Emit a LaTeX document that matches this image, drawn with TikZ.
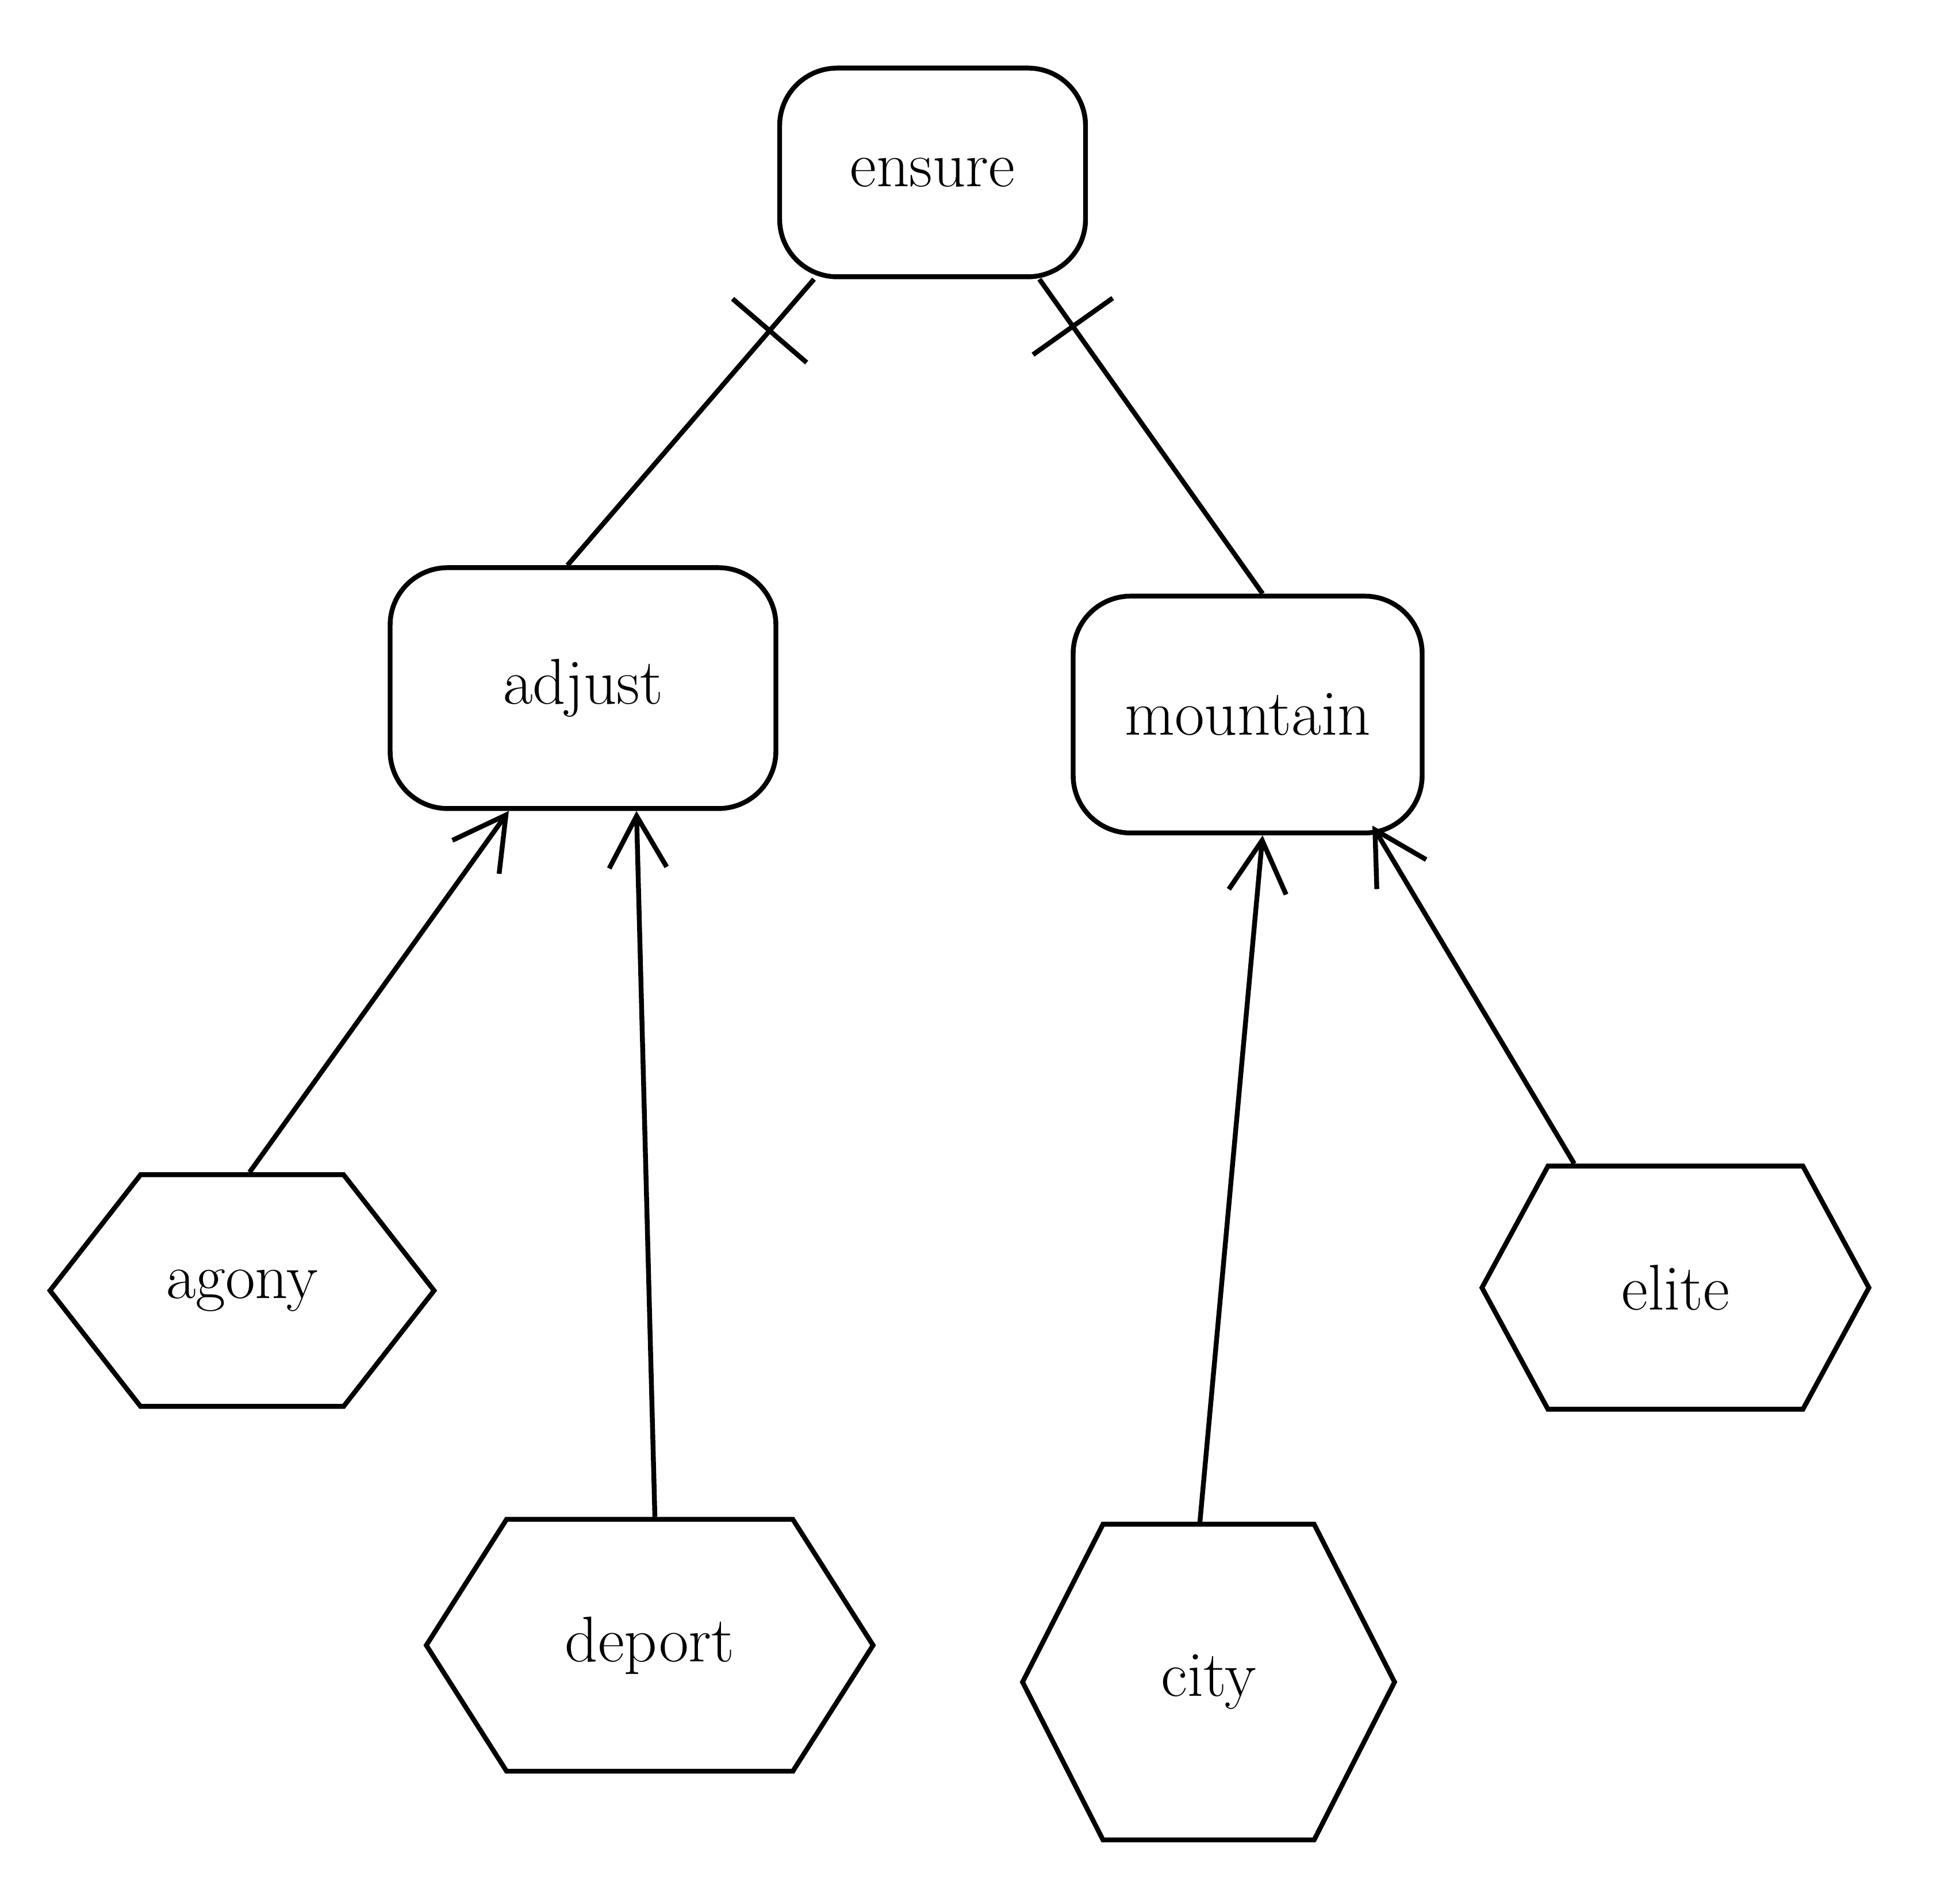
\documentclass[tikz,border=0pt]{standalone}
\usetikzlibrary{positioning,shapes.symbols,arrows.meta}
\tikzset{word box/.style={rectangle,rounded corners=1cm,draw,line width=2.4pt,inner sep=0pt,font=\fontsize{32}{38}\selectfont},
word hex/.style={signal,signal to=east and west,draw,line width=2.4pt,inner sep=0pt,font=\fontsize{32}{38}\selectfont},
bar mark/.style={sloped,draw,line width=2.4pt,minimum width=0pt,minimum height=1.7cm,inner sep=0pt},
up link/.style={-{Straight Barb[length=0.9cm,width=1cm]}},
}

\begin{document}
\begin{tikzpicture}[on grid]
		\useasboundingbox (0,0) rectangle (34.02,33.12);
		\node[word box,minimum width=5.32cm,minimum height=3.63cm] (ensure) at (16.22,30.12) {ensure};
		\node[word box,minimum width=6.71cm,minimum height=4.19cm] (adjust) [below left=8.97cm and 6.08cm of ensure] {adjust};
		\node[word box,minimum width=6.07cm,minimum height=4.12cm] (mountain) [below right=9.43cm and 5.48cm of ensure] {mountain};
		\node[word hex,minimum width=6.68cm,minimum height=4.03cm,signal pointer angle=104] (agony) [below left=10.48cm and 5.93cm of adjust] {agony};
		\node[word hex,minimum width=7.77cm,minimum height=4.38cm,signal pointer angle=115] (deport) [below right=16.65cm and 1.16cm of adjust] {deport};
		\node[word hex,minimum width=6.47cm,minimum height=5.49cm,signal pointer angle=126] (city) [below left=16.83cm and 0.68cm of mountain] {city};
		\node[word hex,minimum width=6.73cm,minimum height=4.23cm,signal pointer angle=123] (elite) [below right=9.97cm and 7.44cm of mountain] {elite};
		
		\path[draw,line width=2.4pt]
		(ensure.-138) edge node[bar mark,pos=0.18] {} ([xshift=-0.27cm]adjust.north)
		(ensure.-45) edge node[bar mark,pos=0.15] {} ([xshift=0.26cm]mountain.north);
		
		\path[draw,line width=2.4pt]
		([xshift=0.13cm]agony.north) edge[up link] ([xshift=-1.29cm]adjust.south)
		([xshift=0.09cm]deport.north) edge[up link] ([xshift=0.93cm]adjust.south)
		([xshift=-0.15cm]city.north) edge[up link] ([xshift=0.26cm]mountain.south)
		([xshift=-1.76cm]elite.north) edge[up link] ([xshift=2.17cm,yshift=0.17cm]mountain.south);
		
	\end{tikzpicture}
\end{document}
